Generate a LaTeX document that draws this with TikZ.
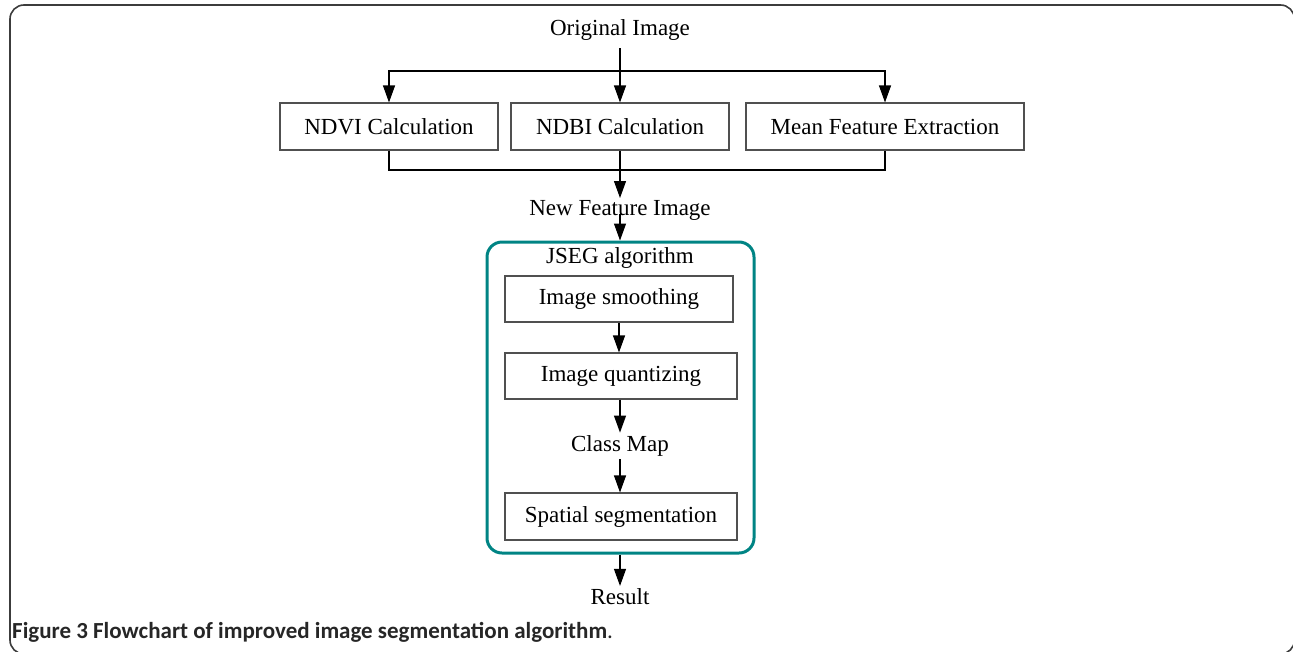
\documentclass[tikz,border=0pt]{standalone}
\usepackage{fontspec}
\setmainfont{Liberation Serif}
\newfontfamily\capfont{Carlito}
\usetikzlibrary{arrows.meta}
\definecolor{jsegteal}{RGB}{0,132,132}
\definecolor{boxgray}{RGB}{80,80,80}
\definecolor{framegray}{RGB}{60,60,60}
\begin{document}
\begin{tikzpicture}[x=1pt,y=-1pt,
  box/.style={draw=boxgray, line width=1.1pt, minimum height=47pt, inner sep=0pt,
    font=\fontsize{23}{27}\selectfont},
  lbl/.style={inner sep=0pt, outer ysep=3pt, font=\fontsize{23}{27}\selectfont},
  arr/.style={-{Triangle[length=17pt,width=12pt]}, line width=1.1pt},
  ln/.style={line width=1.1pt}]
\useasboundingbox (0,0) rectangle (1293,651);
\clip (0,0) rectangle (1293,651);
\draw[line width=1.6pt, draw=framegray, rounded corners=14pt] (10,5) rectangle (1294.5,654);

\node[lbl] (orig) at (620,30) {Original Image};
\node[box, minimum width=218pt] (ndvi) at (389,126.5) {NDVI Calculation};
\node[box, minimum width=218pt] (ndbi) at (620,126.5) {NDBI Calculation};
\node[box, minimum width=278pt] (mean) at (885,126.5) {Mean Feature Extraction};
\coordinate (split) at (620,71);
\coordinate (join) at (620,170);
\coordinate (tipnf) at (620,198);

\draw[ln] ([yshift=-5pt]orig.south) -- (split);
\draw[arr] (split) -- (ndbi.north);
\draw[arr] (split) -| (ndvi.north);
\draw[arr] (split) -| (mean.north);
\draw[ln] (ndvi.south) |- (join) -| (mean.south);
\draw[arr] (ndbi.south) -- (tipnf);

\node[lbl] (nfi) at (620,210) {New Feature Image};
\node[draw=jsegteal, line width=3pt, rounded corners=15pt, minimum width=267pt,
  minimum height=311pt, inner sep=0pt] (jseg) at (620.5,397.5) {};
\draw[arr] ([yshift=-4pt]nfi.center) -- (nfi.center |- jseg.north);

\node[lbl] (jlab) at (620,258) {JSEG algorithm};
\node[box, minimum width=228pt, minimum height=46pt] (smooth) at (619,299) {Image smoothing};
\node[box, minimum width=232pt, minimum height=46pt] (quant) at (621,376) {Image quantizing};
\node[lbl] (cmap) at (620,446) {Class Map};
\node[box, minimum width=232pt] (spat) at (621,516.5) {Spatial segmentation};
\node[lbl] (res) at (620,597) {Result};

\draw[arr] (smooth.south) -- (smooth.south |- quant.north);
\draw[arr] (quant.south -| cmap) -- (cmap.north);
\draw[arr] (cmap.south) -- (cmap.south |- spat.north);
\draw[arr] (jseg.south -| res) -- (res.north);

\node[anchor=base west, inner sep=0pt, text=black!85,
  font=\capfont\fontsize{23}{27}\selectfont] (cap) at (12,638)
  {\textbf{Figure 3 Flowchart of improved image segmentation algorithm}.};
\end{tikzpicture}
\end{document}
